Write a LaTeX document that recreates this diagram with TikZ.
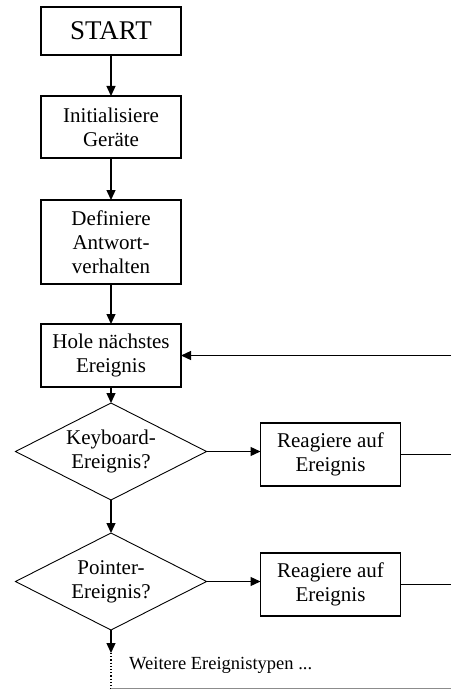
\documentclass[tikz,border=0pt]{standalone}
\usepackage{fontspec}
\setmainfont{Liberation Serif}
\usepackage{xcolor}
\definecolor{cLine}{HTML}{000000}
\definecolor{cGray}{HTML}{8C8C8C}
\usepackage{tikz}
\usetikzlibrary{positioning,arrows.meta,shapes.geometric}
\tikzset{
  node-box/.style={draw=cLine,line width=1.6pt,minimum width=140pt,outer sep=0pt,
    align=center,inner sep=2pt,font=\fontsize{21}{24}\selectfont},
  node-start/.style={node-box,minimum height=48pt,
    font=\fontsize{27}{30}\selectfont},
  node-dec/.style={draw=cLine,line width=0.9pt,diamond,aspect=2,inner sep=0pt,
    outer sep=0pt,minimum width=191pt,minimum height=97pt,align=center,
    font=\fontsize{21}{24}\selectfont},
  node-note/.style={anchor=west,inner sep=0pt,font=\fontsize{18.5}{20}\selectfont},
  arrow/.style={-{Triangle[length=10pt,width=9pt]},line width=1.3pt,draw=cLine},
  line/.style={line width=1.3pt,draw=cLine},
  line-more/.style={dotted,line width=1.2pt,draw=cLine},
  line-back/.style={line width=1.4pt,draw=cGray},
}
\begin{document}
\begin{tikzpicture}[x=1pt,y=-1pt]
  \useasboundingbox (0,0) rectangle (451,690);
  \node[node-start] (start) at (111,31) {START};
  \node[node-box,minimum height=62pt,below=41pt of start] (init) {Initialisiere\\Geräte};
  \node[node-box,minimum height=84pt,below=42pt of init] (def) {Definiere\\Antwort-\\verhalten};
  \node[node-box,minimum height=63pt,below=40pt of def] (next) {Hole nächstes\\Ereignis};
  \node[node-dec,below=16pt of next] (kbd) {Keyboard-\\Ereignis?};
  \node[node-box,minimum height=63pt,right=54pt of kbd,yshift=-3pt] (actkbd) {Reagiere auf\\Ereignis};
  \node[node-dec,below=33pt of kbd] (ptr) {Pointer-\\Ereignis?};
  \node[node-box,minimum height=63pt,right=54pt of ptr,yshift=-3pt] (actptr) {Reagiere auf\\Ereignis};
  \coordinate (edge) at (451,0);
  \coordinate[below=23pt of ptr] (more);
  \coordinate (bend) at (more |- 0,688.5);
  \node[node-note] (moretxt) at (129,665) {Weitere Ereignistypen ...};
  \draw[arrow] (start) -- (init);
  \draw[arrow] (init) -- (def);
  \draw[arrow] (def) -- (next);
  \draw[arrow] (next) -- (kbd);
  \draw[arrow] (kbd) -- (kbd -| actkbd.west);
  \draw[arrow] (kbd) -- (ptr);
  \draw[arrow] (ptr) -- (ptr -| actptr.west);
  \draw[arrow] (ptr) -- (more);
  \draw[line] (actkbd) -- (actkbd -| edge);
  \draw[line] (actptr) -- (actptr -| edge);
  \draw[arrow] (next -| edge) -- (next);
  \draw[line-more] (more) -- (bend);
  \draw[line-back] (bend) -- (bend -| edge);
\end{tikzpicture}
\end{document}
